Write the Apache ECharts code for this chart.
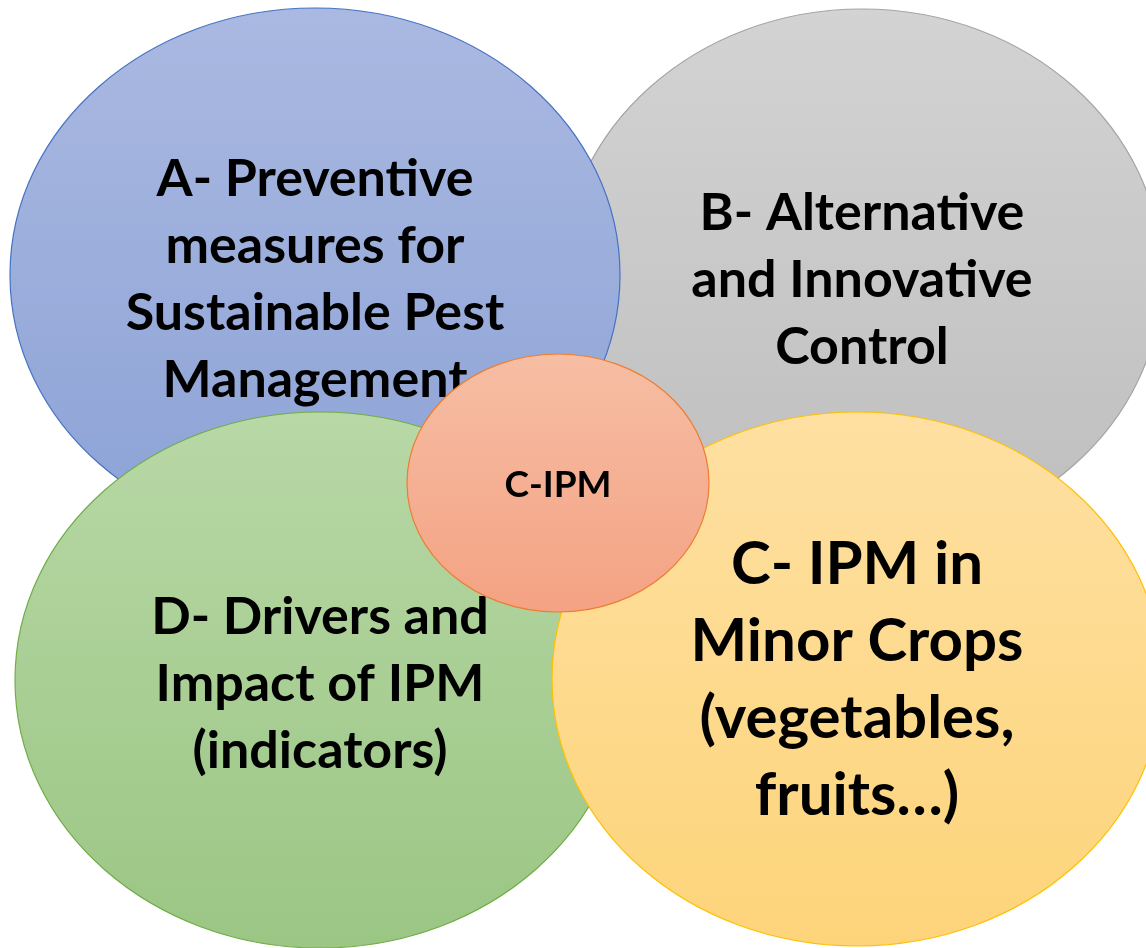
<!DOCTYPE html>
<html>
<head>
<meta charset="utf-8">
<script src="https://cdn.jsdelivr.net/npm/echarts@6/dist/echarts.min.js"></script>
<style>
html,body{margin:0;padding:0;background:#fff;}
#chart{width:1146px;height:948px;}
</style>
</head>
<body>
<div id="chart"></div>
<script>
// Diagram data (drawing order: back to front), in diagram units (x: 0..1146, y: 0..948 downward)
var circleNames = ['B', 'A', 'D', 'C', 'Core'];
var circleLabels = [
  'B- Alternative\nand Innovative\nControl',
  'A- Preventive\nmeasures for\nSustainable Pest\nManagement',
  'D- Drivers and\nImpact of IPM\n(indicators)',
  'C- IPM in\nMinor Crops\n(vegetables,\nfruits\u2026)',
  'C-IPM'
];
var centreX = [862, 315, 320, 857, 558];
var centreY = [276, 275, 680, 679, 483];
var radiusX = [300, 305, 305, 305, 151];
var radiusY = [267, 267, 268, 267, 129];

// Styles (kept apart from data)
var styles = {
  B:    {top: '#d3d3d3', bottom: '#bebebe', stroke: '#a5a5a5', font: 52, lh: 67, dy: 4},
  A:    {top: '#aab9e1', bottom: '#8ca2d6', stroke: '#4472c4', font: 52, lh: 67, dy: 5},
  D:    {top: '#b8d8a6', bottom: '#9bc684', stroke: '#70ad47', font: 52, lh: 67, dy: 4},
  C:    {top: '#fee0a2', bottom: '#fdd47a', stroke: '#ffc000', font: 60, lh: 77, dy: 1},
  Core: {top: '#f6bea4', bottom: '#f4a283', stroke: '#ed7d31', font: 37, lh: 40, dy: 2}
};

var seriesData = circleNames.map(function (n, i) {
  return [centreX[i], centreY[i], radiusX[i], radiusY[i], i];
});

var chart = echarts.init(document.getElementById('chart'), null, {renderer: 'canvas'});
chart.setOption({
  animation: false,
  grid: {left: 0, right: 0, top: 0, bottom: 0},
  xAxis: {type: 'value', min: 0, max: 1146, show: false},
  yAxis: {type: 'value', min: 0, max: 948, inverse: true, show: false},
  series: [{
    type: 'custom',
    coordinateSystem: 'cartesian2d',
    clip: false,
    data: seriesData,
    renderItem: function (params, api) {
      var idx = api.value(4);
      var name = circleNames[idx];
      var st = styles[name];
      var c = api.coord([api.value(0), api.value(1)]);
      var sz = api.size([api.value(2), api.value(3)]);
      return {
        type: 'group',
        children: [{
          type: 'ellipse',
          z2: idx * 2,
          shape: {cx: c[0], cy: c[1], rx: sz[0], ry: sz[1]},
          style: {
            fill: new echarts.graphic.LinearGradient(0, 0, 0, 1, [
              {offset: 0, color: st.top},
              {offset: 1, color: st.bottom}
            ]),
            stroke: st.stroke,
            lineWidth: 1.2
          }
        }, {
          type: 'text',
          z2: idx * 2 + 1,
          x: c[0],
          y: c[1] + st.dy,
          style: {
            text: circleLabels[idx],
            fontFamily: 'Lato',
            fontWeight: 'bold',
            fontSize: st.font,
            lineHeight: st.lh,
            fill: '#000',
            align: 'center',
            verticalAlign: 'middle'
          }
        }]
      };
    }
  }]
});
</script>
</body>
</html>
